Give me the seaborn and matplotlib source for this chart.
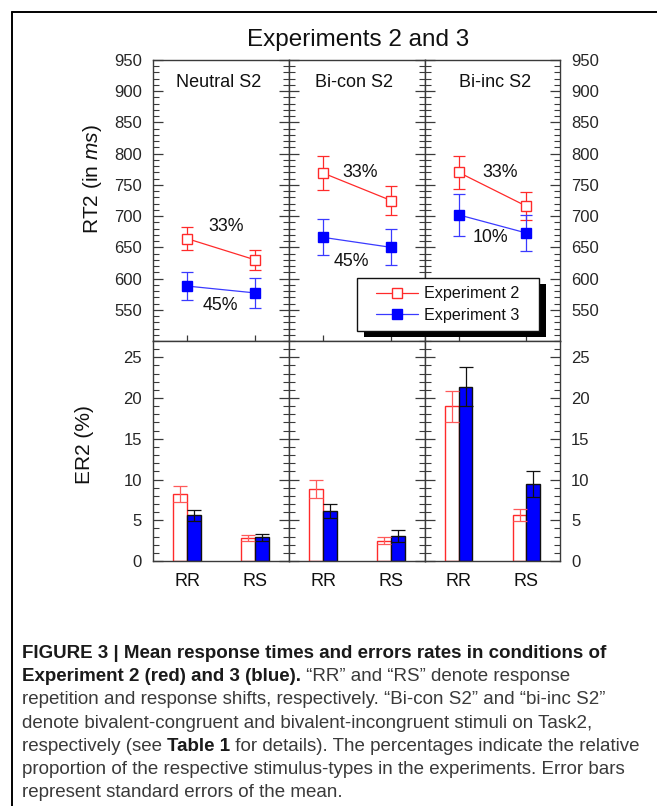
import numpy as np
import pandas as pd
import matplotlib
matplotlib.use("Agg")
import matplotlib.pyplot as plt
import seaborn as sns
from matplotlib.lines import Line2D
from matplotlib.patches import Rectangle
from matplotlib.ticker import MultipleLocator, FixedLocator
from matplotlib import font_manager

# ---------------- data ----------------
conditions = ["Neutral S2", "Bi-con S2", "Bi-inc S2"]
responses = ["RR", "RS"]
experiments = ["Experiment 2", "Experiment 3"]

rt_exp2 = [[664, 630], [769, 725], [770, 716]]
rt_exp2_se = [[19, 16], [27, 23], [26, 22]]
rt_exp3 = [[588, 577], [666, 650], [702, 673]]
rt_exp3_se = [[23, 24], [29, 29], [34, 29]]

er_exp2 = [[8.2, 2.85], [8.85, 2.5], [19.0, 5.6]]
er_exp2_se = [[1.0, 0.4], [1.1, 0.4], [1.9, 0.75]]
er_exp3 = [[5.6, 2.9], [6.15, 3.05], [21.4, 9.45]]
er_exp3_se = [[0.65, 0.4], [0.9, 0.7], [2.35, 1.55]]

pct_exp2 = ["33%", "33%", "33%"]
pct_exp3 = ["45%", "45%", "10%"]

rt_major = [550, 600, 650, 700, 750, 800, 850, 900, 950]
er_major = [0, 5, 10, 15, 20, 25]

# ---------------- style ----------------
sns.set_theme(style="ticks")
plt.rcParams["font.family"] = ["Liberation Sans", "DejaVu Sans"]
plt.rcParams["mathtext.fontset"] = "custom"
plt.rcParams["mathtext.rm"] = "Liberation Sans"
plt.rcParams["mathtext.it"] = "Liberation Sans:italic"

names = {f.name for f in font_manager.fontManager.ttflist}
if "Liberation Sans Narrow" in names:
    cap_family = ["Liberation Sans Narrow", "Liberation Sans"]
else:
    cap_family = ["Liberation Sans", "DejaVu Sans"]

W, H = 657, 806
fig = plt.figure(figsize=(W / 100, H / 100), dpi=100)
fig.patch.set_facecolor("white")


def fx(x):
    return x / W


def fy(y):
    return 1 - y / H


RED = "#ff2a2a"
RED_L = "#ff5a5a"
BLUE = "#0000ff"
BLUE_L = "#3a3aff"
SPINE = "#3a3a3a"
TICK_FS = 12

panel_x = [153, 289, 425, 560]
top_y0, mid_y, bot_y = 60, 341, 561

pct_pos_exp2 = [(0.574, 683), (0.544, 770), (0.611, 770)]
pct_pos_exp3 = [(0.485, 557), (0.412, 628), (0.463, 665)]
title_xfrac = [0.48, 0.48, 0.52]


def style_axes(ax):
    for s in ax.spines.values():
        s.set_visible(True)
        s.set_color(SPINE)
        s.set_linewidth(1.0)
    ax.set_facecolor("white")
    ax.grid(False)


for i, cond in enumerate(conditions):
    x0, x1 = panel_x[i], panel_x[i + 1]
    # ---------- top: RT ----------
    ax = fig.add_axes([fx(x0), fy(mid_y), (x1 - x0) / W, (mid_y - top_y0) / H])
    style_axes(ax)
    xs = [0, 1]
    for vals, se, col, lcol, mfc in [
        (rt_exp2[i], rt_exp2_se[i], RED, RED, "white"),
        (rt_exp3[i], rt_exp3_se[i], BLUE, BLUE_L, BLUE),
    ]:
        ax.errorbar(xs, vals, yerr=se, fmt="none", ecolor=lcol, elinewidth=0.9,
                    capsize=4, capthick=0.9, zorder=2)
        sns.lineplot(x=xs, y=vals, ax=ax, color=lcol, marker="s", markersize=7.5,
                     markerfacecolor=mfc, markeredgecolor=col, markeredgewidth=1.0,
                     linewidth=0.9, zorder=3)
    ax.set_xlim(-0.5, 1.5)
    ax.set_ylim(500, 950)
    ax.yaxis.set_major_locator(FixedLocator(rt_major))
    ax.yaxis.set_minor_locator(MultipleLocator(10))
    ax.set_xticks(xs)
    ax.set_xticklabels([])
    ax.tick_params(axis="x", which="major", direction="inout", length=8, width=0.9,
                   color=SPINE, bottom=True, top=False, labelbottom=False)
    ax.tick_params(axis="x", which="minor", bottom=False, top=False)
    ax.tick_params(axis="y", which="major", direction="in", length=7, width=0.9,
                   color=SPINE, left=True, right=True, labelsize=TICK_FS, pad=8)
    ax.tick_params(axis="y", which="minor", direction="in", length=4, width=0.8,
                   color=SPINE, left=True, right=True)
    ax.tick_params(axis="y", labelleft=(i == 0), labelright=(i == 2))
    ax.set_xlabel("")
    ax.set_ylabel("")
    ax.text(title_xfrac[i], 0.92, cond, transform=ax.transAxes, ha="center",
            va="center", fontsize=13, color="#111111")
    ax.text(pct_pos_exp2[i][0], pct_pos_exp2[i][1], pct_exp2[i], ha="center",
            va="center", fontsize=12.8, color="#111111")
    ax.text(pct_pos_exp3[i][0], pct_pos_exp3[i][1], pct_exp3[i], ha="center",
            va="center", fontsize=12.8, color="#111111")

    # ---------- bottom: ER ----------
    axb = fig.add_axes([fx(x0), fy(bot_y), (x1 - x0) / W, (bot_y - mid_y) / H])
    df = pd.DataFrame({
        "response": responses * 2,
        "exp": [experiments[0]] * 2 + [experiments[1]] * 2,
        "er": er_exp2[i] + er_exp3[i],
    })
    sns.barplot(data=df, x="response", y="er", hue="exp", order=responses,
                hue_order=experiments, width=0.4, errorbar=None,
                palette=["white", BLUE], saturation=1, legend=False, ax=axb)
    style_axes(axb)
    for bar in axb.containers[0]:
        bar.set_facecolor("white")
        bar.set_edgecolor(RED)
        bar.set_linewidth(1.0)
    for bar in axb.containers[1]:
        bar.set_edgecolor("#111111")
        bar.set_linewidth(1.0)
    for cont, vals, se, ecol in [
        (axb.containers[0], er_exp2[i], er_exp2_se[i], RED_L),
        (axb.containers[1], er_exp3[i], er_exp3_se[i], "#111111"),
    ]:
        cx = [b.get_x() + b.get_width() / 2 for b in cont]
        axb.errorbar(cx, vals, yerr=se, fmt="none", ecolor=ecol, elinewidth=0.9,
                     capsize=5, capthick=0.9, zorder=3)
    axb.set_xlim(-0.5, 1.5)
    axb.set_ylim(0, 27)
    axb.yaxis.set_major_locator(FixedLocator(er_major))
    axb.yaxis.set_minor_locator(MultipleLocator(1))
    axb.tick_params(axis="x", which="both", length=0, labelsize=13, pad=9,
                    colors="#111111")
    axb.tick_params(axis="y", which="major", direction="in", length=7, width=0.9,
                    color=SPINE, left=True, right=True, labelsize=TICK_FS, pad=8)
    axb.tick_params(axis="y", which="minor", direction="in", length=4, width=0.8,
                    color=SPINE, left=True, right=True)
    axb.tick_params(axis="y", labelleft=(i == 0), labelright=(i == 2))
    axb.set_xlabel("")
    axb.set_ylabel("")

# ---------------- axis labels & title ----------------
fig.text(fx(92), fy(179), r"RT2 (in $\it{ms}$)", rotation=90, ha="center",
         va="center", fontsize=15, color="#111111")
fig.text(fx(84), fy(445), "ER2 (%)", rotation=90, ha="center", va="center",
         fontsize=15, color="#111111")
fig.text(fx(358), fy(40), "Experiments 2 and 3", ha="center", va="center",
         fontsize=17.5, color="#111111")

renderer = fig.canvas.get_renderer()
inv = fig.transFigure.inverted()

# ---------------- legend (frame + shadow drawn as patches) ----------------
lx0, ly0, lx1, ly1 = 357, 278, 539, 331
shadow = Rectangle((fx(lx0 + 7), fy(ly1 + 6)), (lx1 - lx0) / W, (ly1 - ly0) / H,
                   transform=fig.transFigure, facecolor="black", edgecolor="none",
                   zorder=4)
frame = Rectangle((fx(lx0), fy(ly1)), (lx1 - lx0) / W, (ly1 - ly0) / H,
                  transform=fig.transFigure, facecolor="white", edgecolor="#111111",
                  linewidth=1.0, zorder=4.5)
fig.add_artist(shadow)
fig.add_artist(frame)

handles = [
    Line2D([], [], color=RED, marker="s", markersize=7.5, markerfacecolor="white",
           markeredgecolor=RED, linewidth=0.9),
    Line2D([], [], color=BLUE_L, marker="s", markersize=7.5, markerfacecolor=BLUE,
           markeredgecolor=BLUE, linewidth=0.9),
]
leg = fig.legend(handles, experiments, loc="center left",
                 bbox_to_anchor=(fx(376), fy(304.5)), fontsize=11.6, frameon=False,
                 handlelength=2.6, handletextpad=0.4, borderpad=0,
                 labelspacing=0.38, borderaxespad=0)
leg.set_zorder(6)
for t in leg.get_texts():
    t.set_color("#111111")

# ---------------- outer frame ----------------
fig.add_artist(Line2D([fx(12), fx(12)], [0, fy(12)], color="black", lw=1.4))
fig.add_artist(Line2D([fx(12), 1], [fy(12), fy(12)], color="black", lw=1.4))

# ---------------- caption ----------------
cap_lines = [
    [("FIGURE 3 | Mean response times and errors rates in conditions of", True)],
    [("Experiment 2 (red) and 3 (blue).", True),
     (" \u201cRR\u201d and \u201cRS\u201d denote response", False)],
    [("repetition and response shifts, respectively. \u201cBi-con S2\u201d and \u201cbi-inc S2\u201d", False)],
    [("denote bivalent-congruent and bivalent-incongruent stimuli on Task2,", False)],
    [("respectively (see ", False), ("Table 1", True),
     (" for details). The percentages indicate the relative", False)],
    [("proportion of the respective stimulus-types in the experiments. Error bars", False)],
    [("represent standard errors of the mean.", False)],
]


def line_width(segs, size):
    total = 0.0
    for s, bold in segs:
        t = fig.text(0, 0, s, fontsize=size, family=cap_family,
                     fontweight="bold" if bold else "normal")
        total += t.get_window_extent(renderer).width
        t.remove()
    return total


# size the caption font so the widest line fits the reference's text block
widest = max(line_width(segs, 12) for segs in cap_lines)
cap_size = 12 * 622 / widest

base0, step = 658, 23.2
for li, segs in enumerate(cap_lines):
    xcur = fx(22)
    ycur = fy(base0 + li * step)
    for s, bold in segs:
        t = fig.text(xcur, ycur, s, ha="left", va="baseline", fontsize=cap_size,
                     family=cap_family, fontweight="bold" if bold else "normal",
                     color="#1a1a1a" if bold else "#3a3a3a")
        e = t.get_window_extent(renderer)
        xcur = inv.transform((e.x1, e.y0))[0]

fig.savefig("out.png", dpi=100, facecolor="white")
